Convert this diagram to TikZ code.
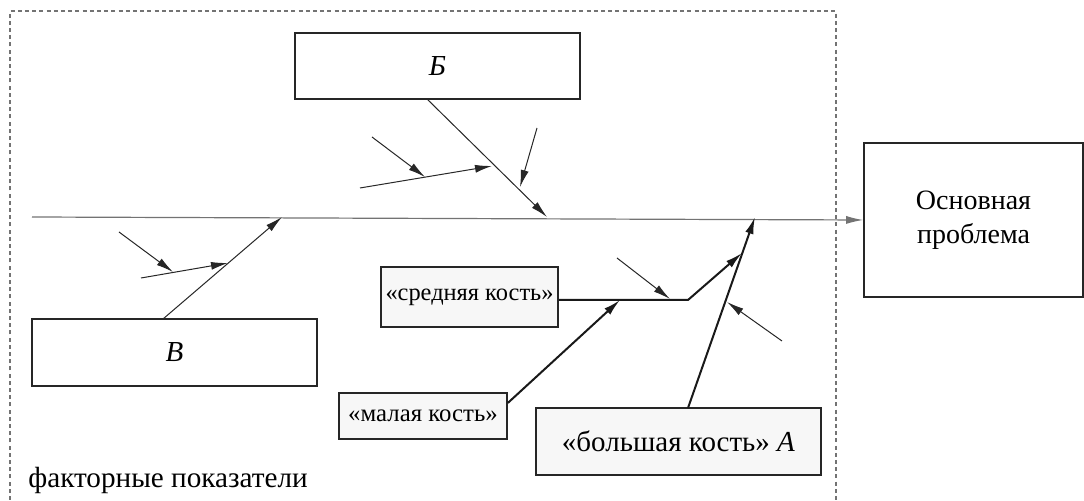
\documentclass[tikz,border=0pt]{standalone}
\usepackage{fontspec}
\setmainfont{Liberation Serif}
\usetikzlibrary{arrows.meta}
\begin{document}
\begin{tikzpicture}[x=0.5pt,y=-0.5pt,
  box/.style={draw=black!85,line width=0.8pt,inner sep=0pt,align=center},
  lbox/.style={box,fill=black!3},
  thin/.style={draw=black!85,line width=0.5pt,-{Latex[length=8.5pt,width=4pt]}},
  thick/.style={draw=black!90,line width=1pt,-{Latex[length=8.5pt,width=4.2pt]}},
  frame/.style={draw=black!55,line width=0.6pt,dash pattern=on 2pt off 1.6pt}]
\useasboundingbox (0,0) rectangle (1084,501);
\draw[frame] (10,500) -- (10,11) -- (836,11) -- (836,500);
% boxes
\node[box,minimum width=142.5pt,minimum height=33pt,font=\fontsize{14.5}{17}\selectfont\itshape] (B) at (437.5,66) {Б};
\node[box,minimum width=142.5pt,minimum height=33.5pt,font=\fontsize{14.5}{17}\selectfont\itshape] (V) at (174.5,352.5) {В};
\node[box,minimum width=109.5pt,minimum height=77pt,font=\fontsize{14}{18}\selectfont] (P) at (973.5,220) {Основная\\[-1pt]проблема};
\node[lbox,minimum width=88.5pt,minimum height=30pt,font=\fontsize{12.2}{14}\selectfont] (S) at (469.5,297) {«средняя кость»};
\node[lbox,minimum width=84pt,minimum height=23pt,font=\fontsize{12.4}{14}\selectfont] (M) at (423,416) {«малая кость»};
\node[lbox,minimum width=142.5pt,minimum height=33.5pt,font=\fontsize{14.5}{17}\selectfont] (L) at (678.5,441.5) {«большая кость» \textit{A}};
\node[anchor=base west,inner sep=0pt,font=\fontsize{14.6}{17}\selectfont] (F) at (28,488) {факторные показатели};
% spine
\coordinate (s0) at (32,217);
\draw[draw=black!55,line width=0.6pt,-{Latex[length=8.5pt,width=4pt]}] (s0) -- (P.west);
% B bone
\coordinate (b0) at (427,99);
\coordinate (b1) at (547,217);
\draw[thin] (b0) -- (b1);
\coordinate (b2) at (537,128);
\coordinate (b3) at (520,187);
\draw[thin] (b2) -- (b3);
\coordinate (b4) at (360,188);
\coordinate (b5) at (492,166);
\draw[thin] (b4) -- (b5);
\coordinate (b6) at (372,137);
\coordinate (b7) at (425,177);
\draw[thin] (b6) -- (b7);
% V bone
\coordinate (v0) at (163,319);
\coordinate (v1) at (282,217);
\draw[thin] (v0) -- (v1);
\coordinate (v2) at (141,278);
\coordinate (v3) at (228,263);
\draw[thin] (v2) -- (v3);
\coordinate (v4) at (119,232);
\coordinate (v5) at (173,272);
\draw[thin] (v4) -- (v5);
% A bones
\coordinate (a0) at (688,408);
\coordinate (a1) at (755,217);
\draw[thick] (a0) -- (a1);
\coordinate (sm) at (688,300);
\coordinate (se) at (742,253);
\draw[thick] (S.east |- sm) -- (sm) -- (se);
\coordinate (m1) at (620,300);
\draw[thick] (M.east |- 0,403) -- (m1);
\coordinate (t0) at (617,258);
\coordinate (t1) at (670,299);
\draw[thin] (t0) -- (t1);
\coordinate (u0) at (782,341);
\coordinate (u1) at (727,302);
\draw[thin] (u0) -- (u1);
\end{tikzpicture}
\end{document}
